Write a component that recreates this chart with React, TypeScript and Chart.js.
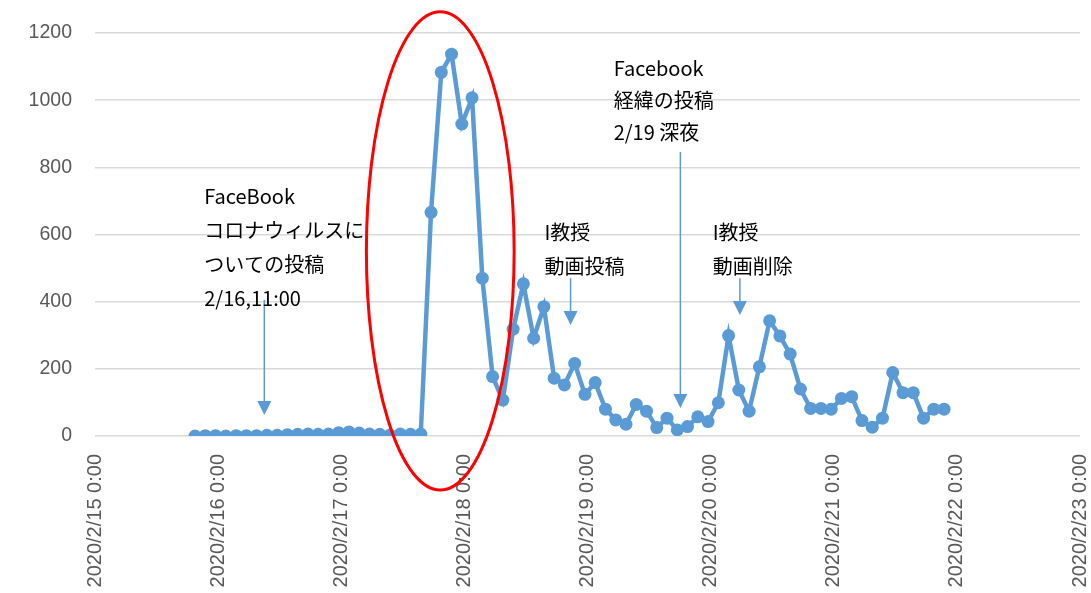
import React, { useEffect, useRef } from "react";
import { Chart, registerables } from "chart.js";

Chart.register(...registerables);

// X tick labels (one per day, linear axis in hours since 2020/2/15 0:00)
const tickLabels = [
  "2020/2/15 0:00",
  "2020/2/16 0:00",
  "2020/2/17 0:00",
  "2020/2/18 0:00",
  "2020/2/19 0:00",
  "2020/2/20 0:00",
  "2020/2/21 0:00",
  "2020/2/22 0:00",
  "2020/2/23 0:00",
];

// Observation times (hours since 2020/2/15 0:00)
const hours = [
  19.5, 21.5, 23.5, 25.5, 27.5, 29.5, 31.5, 33.5, 35.5, 37.5,
  39.5, 41.5, 43.5, 45.5, 47.5, 49.5, 51.5, 53.5, 55.5, 57.5,
  59.5, 61.5, 63.5, 65.5, 67.5, 69.5, 71.5, 73.5, 75.5, 77.5,
  79.5, 81.5, 83.5, 85.5, 87.5, 89.5, 91.5, 93.5, 95.5, 97.5,
  99.5, 101.5, 103.5, 105.5, 107.5, 109.5, 111.5, 113.5, 115.5, 117.5,
  119.5, 121.5, 123.5, 125.5, 127.5, 129.5, 131.5, 133.5, 135.5, 137.5,
  139.5, 141.5, 143.5, 145.5, 147.5, 149.5, 151.5, 153.5, 155.5, 157.5,
  159.5, 161.5, 163.5, 165.5,
];

// Counts
const counts = [
  0, 1, 1, 0, 1, 1, 1, 2, 2, 4,
  5, 6, 5, 6, 10, 12, 9, 6, 5, 3,
  6, 5, 6, 666, 1083, 1137, 929, 1007, 470, 177,
  107, 318, 453, 291, 385, 172, 152, 216, 124, 159,
  80, 48, 35, 94, 74, 25, 53, 18, 28, 57,
  43, 99, 299, 137, 74, 206, 343, 298, 244, 140,
  82, 82, 80, 112, 117, 46, 26, 53, 189, 129,
  129, 53, 80, 80,
];

// Annotation texts and anchors (in data units)
const noteLines = [
  ["FaceBook", "コロナウィルスに", "ついての投稿", "2/16,11:00"],
  ["I教授", "動画投稿"],
  ["Facebook", "経緯の投稿", "2/19 深夜"],
  ["I教授", "動画削除"],
];
const noteX = [21.3, 87.6, 101.1, 120.4];
const noteY = [712, 607.5, 1096, 607.5];
const noteGap = [34, 34, 32, 34];

// Arrows (x in hours, from/to in value units)
const arrowX = [33, 92.7, 114.1, 125.7];
const arrowFrom = [405, 470, 846, 470];
const arrowTo = [62.5, 330.5, 83.4, 360];

// Highlight ellipse (center and radii in data units)
const ellipseCenter = [67.3, 551];
const ellipseRadius = [14.4, 712];

const BLUE = "#5B9BD5";

const annotationPlugin = {
  id: "notes",
  afterDatasetsDraw(chart: any) {
    const { ctx, scales } = chart;
    const xs = scales.x;
    const ys = scales.y;
    ctx.save();

    // arrows
    ctx.strokeStyle = BLUE;
    ctx.fillStyle = BLUE;
    ctx.lineWidth = 1.5;
    for (let i = 0; i < arrowX.length; i++) {
      const x = xs.getPixelForValue(arrowX[i]);
      const y1 = ys.getPixelForValue(arrowFrom[i]);
      const y2 = ys.getPixelForValue(arrowTo[i]);
      ctx.beginPath();
      ctx.moveTo(x, y1);
      ctx.lineTo(x, y2 - 12);
      ctx.stroke();
      ctx.beginPath();
      ctx.moveTo(x - 7, y2 - 14);
      ctx.lineTo(x + 7, y2 - 14);
      ctx.lineTo(x, y2);
      ctx.closePath();
      ctx.fill();
    }

    // texts
    ctx.fillStyle = "#000000";
    ctx.font = '20px "Noto Sans CJK JP"';
    ctx.textAlign = "left";
    ctx.textBaseline = "middle";
    for (let i = 0; i < noteLines.length; i++) {
      const x = xs.getPixelForValue(noteX[i]);
      const y0 = ys.getPixelForValue(noteY[i]);
      noteLines[i].forEach((t, j) => {
        ctx.fillText(t, x, y0 + j * noteGap[i]);
      });
    }

    // ellipse
    const cx = xs.getPixelForValue(ellipseCenter[0]);
    const cy = ys.getPixelForValue(ellipseCenter[1]);
    const rx = Math.abs(xs.getPixelForValue(ellipseCenter[0] + ellipseRadius[0]) - cx);
    const ry = Math.abs(ys.getPixelForValue(ellipseCenter[1] + ellipseRadius[1]) - cy);
    ctx.strokeStyle = "#FF0000";
    ctx.lineWidth = 3;
    ctx.beginPath();
    ctx.ellipse(cx, cy, rx, ry, 0, 0, Math.PI * 2);
    ctx.stroke();

    ctx.restore();
  },
};

export default function App() {
  const canvasRef = useRef<HTMLCanvasElement | null>(null);

  useEffect(() => {
    document.body.style.margin = "0";
    const canvas = canvasRef.current;
    if (!canvas) return;
    const chart = new Chart(canvas, {
      type: "line",
      data: {
        datasets: [
          {
            data: hours.map((h, i) => ({ x: h, y: counts[i] })),
            borderColor: BLUE,
            backgroundColor: BLUE,
            borderWidth: 4.5,
            pointRadius: 6.5,
            pointBackgroundColor: BLUE,
            pointBorderWidth: 0,
            tension: 0,
          },
        ],
      },
      options: {
        animation: false,
        responsive: false,
        devicePixelRatio: 1,
        layout: { padding: { top: 33, right: 11, left: 0, bottom: 0 } },
        plugins: {
          legend: { display: false },
          tooltip: { enabled: false },
        },
        scales: {
          x: {
            type: "linear",
            min: 0,
            max: 192,
            grid: { display: false },
            border: { display: false },
            ticks: {
              stepSize: 24,
              autoSkip: false,
              maxRotation: 90,
              minRotation: 90,
              padding: 10,
              color: "#595959",
              font: { family: '"Liberation Sans", Arial, sans-serif', size: 20 },
              callback: (v: any) => tickLabels[Math.round(Number(v) / 24)] ?? "",
            },
            afterFit: (scale: any) => {
              scale.height = 157;
              scale.paddingLeft = 0;
              scale.paddingRight = 0;
            },
          },
          y: {
            min: 0,
            max: 1200,
            grid: { color: "#D9D9D9", lineWidth: 1.5, drawTicks: false },
            border: { display: false },
            ticks: {
              stepSize: 200,
              padding: 23,
              color: "#595959",
              font: { family: '"Liberation Sans", Arial, sans-serif', size: 19.5 },
              callback: (v: any) => String(v),
            },
            afterFit: (scale: any) => {
              scale.width = 95;
              scale.paddingTop = 0;
              scale.paddingBottom = 0;
            },
          },
        },
      },
      plugins: [annotationPlugin],
    });
    return () => chart.destroy();
  }, []);

  return (
    <div style={{ width: 1091, height: 593, overflow: "hidden" }}>
      <canvas ref={canvasRef} width={1091} height={593} />
    </div>
  );
}
